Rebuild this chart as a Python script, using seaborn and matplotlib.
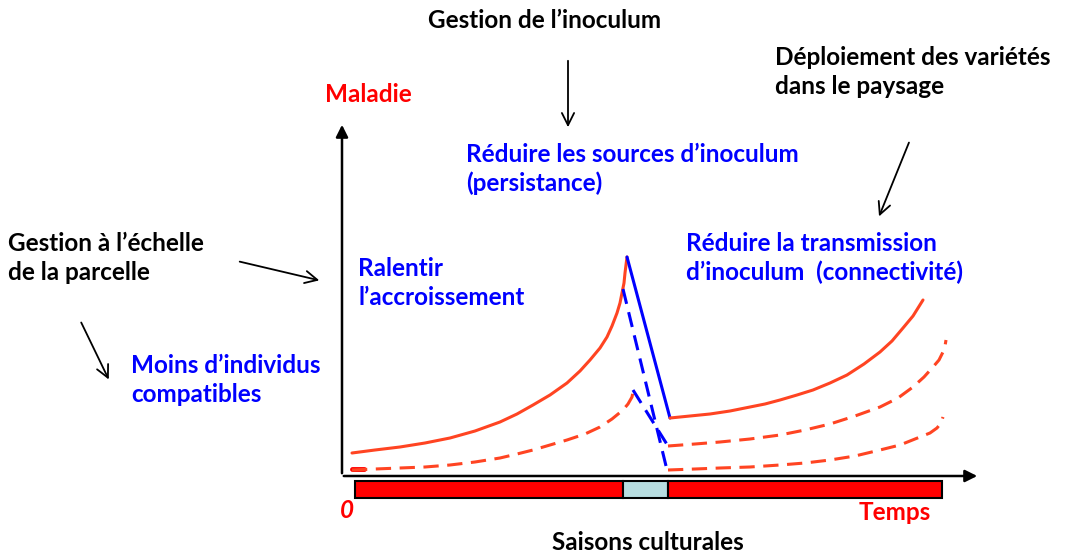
#----------------------------- Schéma maladie / gestion -----------------------------#
import numpy as np
import pandas as pd
import matplotlib
matplotlib.use('Agg')
import matplotlib.pyplot as plt
import seaborn as sns

#Données (coordonnées en pixels)
x_saison1 = [352, 375, 400, 425, 450, 475, 500, 517, 533, 550, 567, 580, 590, 600,
             607, 612, 617, 620, 622, 624, 625, 626, 627]
y_saison1 = [453, 450, 447, 443, 438, 431, 422, 414, 405, 395, 383, 371, 360, 348,
             337, 326, 313, 303, 293, 283, 273, 265, 257]

x_chute = [627, 670]
y_chute = [257, 418]

x_saison2 = [670, 690, 710, 730, 750, 765, 780, 797, 813, 830, 847, 864, 880, 892,
             903, 913, 923]
y_saison2 = [418, 416, 414, 411, 407, 404, 400, 395, 390, 383, 375, 364, 352, 341,
             328, 316, 300]

x_debut = [352, 364]
y_debut = [469, 469]

x_tiret1 = [352, 375, 400, 425, 450, 475, 500, 517, 533, 550, 567, 585, 600, 612,
            623, 628, 632, 633, 634]
y_tiret1 = [470, 469, 468, 467, 465, 462, 458, 454, 450, 445, 440, 434, 427, 419,
            410, 404, 397, 392, 386]

x_chute_bleu1 = [623, 667]
y_chute_bleu1 = [289, 470]
x_chute_bleu2 = [633, 668]
y_chute_bleu2 = [390, 446]

x_tiret2 = [668, 695, 720, 750, 780, 805, 830, 855, 880, 898, 913, 924, 933, 939,
            943, 945, 946]
y_tiret2 = [446, 444, 442, 439, 435, 430, 424, 416, 407, 398, 387, 377, 367, 360,
            352, 346, 340]

x_tiret3 = [668, 695, 720, 750, 780, 805, 830, 855, 880, 900, 920, 930, 937, 941, 943]
y_tiret3 = [470, 469, 468, 467, 465, 463, 460, 456, 450, 445, 437, 433, 428, 423, 417]

#Saisons (barre du bas)
saisons_debut = [355, 623, 668]
saisons_fin = [623, 668, 942]
saisons_couleur = ['#ff0000', '#b7dde0', '#ff0000']

ROUGE = '#ff4422'
BLEU = '#0000ff'

sns.set_theme(style='white')
plt.rcParams['font.family'] = ['Lato', 'DejaVu Sans']

fig = plt.figure(figsize=(10.66, 5.56), dpi=100)
ax = fig.add_axes([0, 0, 1, 1])
ax.set_xlim(0, 1066)
ax.set_ylim(556, 0)
ax.axis('off')

#Courbes
tirets = (0, (5, 2.8))
st = dict(sort=False, lw=2.2, ax=ax, solid_joinstyle='round', dash_joinstyle='round')
sns.lineplot(x=x_saison1, y=y_saison1, color=ROUGE, **st)
sns.lineplot(x=x_chute, y=y_chute, color=BLEU, **st)
sns.lineplot(x=x_saison2, y=y_saison2, color=ROUGE, **st)
sns.lineplot(x=x_debut, y=y_debut, sort=False, lw=3.5, color='#ff0000', ax=ax)
for xs, ys in [(x_tiret1, y_tiret1), (x_tiret2, y_tiret2), (x_tiret3, y_tiret3)]:
    sns.lineplot(x=xs, y=ys, color=ROUGE, linestyle=tirets, **st)
for xs, ys in [(x_chute_bleu1, y_chute_bleu1), (x_chute_bleu2, y_chute_bleu2)]:
    sns.lineplot(x=xs, y=ys, color=BLEU, linestyle=tirets, **st)

#Axes (flèches)
ax.annotate('', xy=(342, 122), xytext=(342, 476),
            arrowprops=dict(arrowstyle='-|>', color='black', lw=1.8, mutation_scale=18))
ax.annotate('', xy=(980, 476), xytext=(341, 476),
            arrowprops=dict(arrowstyle='-|>', color='black', lw=1.8, mutation_scale=18))

#Barre des saisons
for d, f, c in zip(saisons_debut, saisons_fin, saisons_couleur):
    ax.barh(489, f - d, left=d, height=17, color=c, edgecolor='black', lw=1.5)

#Flèches de commentaire
fl = dict(arrowstyle='->', color='black', lw=1.3, mutation_scale=22)
ax.annotate('', xy=(568, 130), xytext=(568, 58), arrowprops=fl)
ax.annotate('', xy=(878, 219), xytext=(910, 140), arrowprops=fl)
ax.annotate('', xy=(322, 281), xytext=(237, 261), arrowprops=fl)
ax.annotate('', xy=(110, 382), xytext=(80, 320), arrowprops=fl)

#Textes
fs = 17.5
tb = dict(fontsize=fs, fontweight='bold', va='center', ha='left', linespacing=1.3)
ax.text(545, 21, 'Gestion de l\u2019inoculum', color='black', **{**tb, 'ha': 'center'})
ax.text(466, 169, 'Réduire les sources d\u2019inoculum\n(persistance)', color=BLEU, **tb)
ax.text(775, 72, 'Déploiement des variétés\ndans le paysage', color='black', **tb)
ax.text(686, 258, 'Réduire la transmission\nd\u2019inoculum  (connectivité)', color=BLEU, **tb)
ax.text(325, 95, 'Maladie', color='#ff0000', **tb)
ax.text(8, 258, 'Gestion à l\u2019échelle\nde la parcelle', color='black', **tb)
ax.text(358, 283, 'Ralentir\nl\u2019accroissement', color=BLEU, **tb)
ax.text(131, 380, 'Moins d\u2019individus\ncompatibles', color=BLEU, **tb)
ax.text(347, 511, '0', color='#ff0000', fontstyle='italic', **{**tb, 'ha': 'center'})
ax.text(895, 513, 'Temps', color='#ff0000', **{**tb, 'ha': 'center'})
ax.text(648, 543, 'Saisons culturales', color='black', **{**tb, 'ha': 'center'})

fig.savefig('out.png', dpi=100)
